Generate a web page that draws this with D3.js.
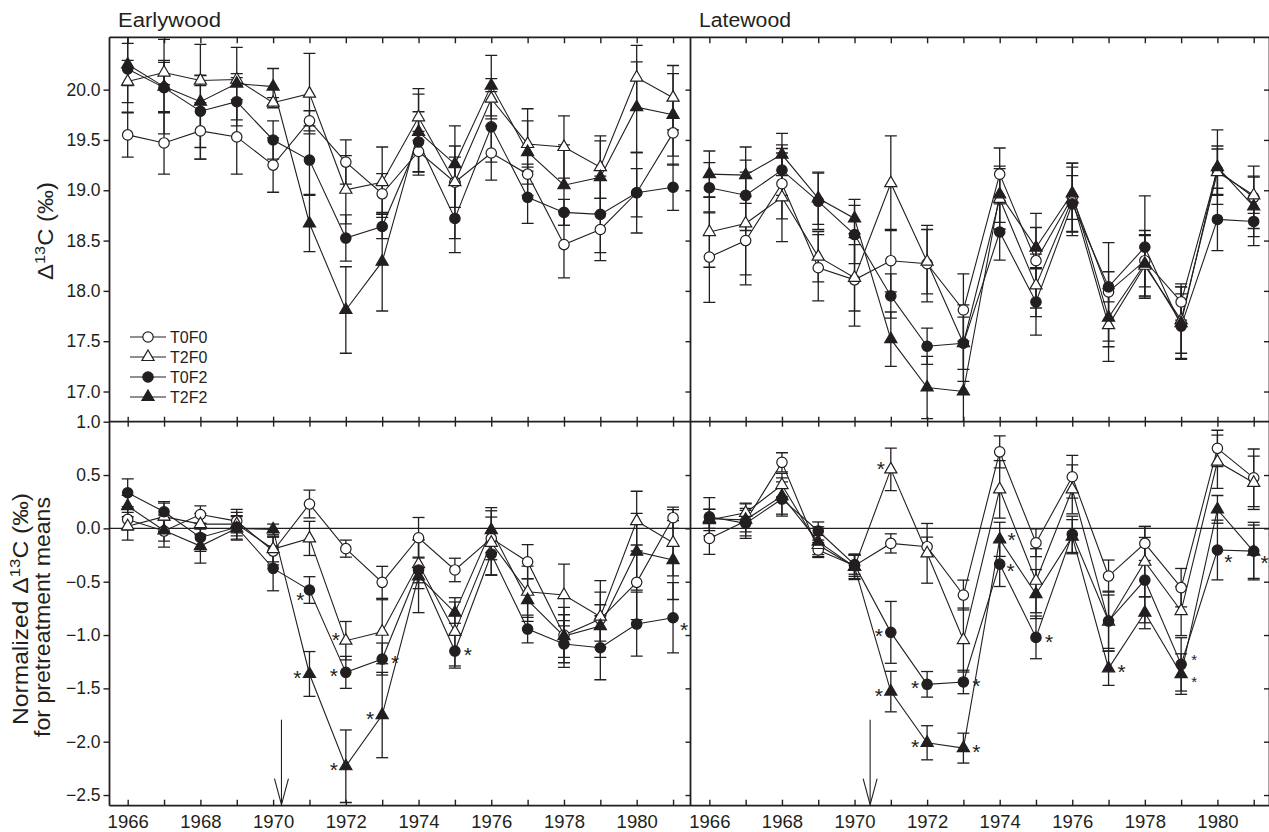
<!DOCTYPE html>
<html><head><meta charset="utf-8">
<script src="https://cdn.jsdelivr.net/npm/d3@7"></script>
<style>
body{margin:0;background:#fff}
svg{display:block}
text{font-family:"Liberation Sans",Arial,Helvetica,sans-serif;fill:#231f20}
</style>
</head><body>
<svg id="c" width="1269" height="832"></svg>
<script>
// ---------------- DATA ----------------
const years = [1966,1967,1968,1969,1970,1971,1972,1973,1974,1975,1976,1977,1978,1979,1980,1981];
const seriesNames = ["T0F0","T2F0","T0F2","T2F2"];
const panelTitles = ["Earlywood","Latewood"];
const rawTicks = [17.0,17.5,18.0,18.5,19.0,19.5,20.0];
const normTicks = [-2.5,-2.0,-1.5,-1.0,-0.5,0.0,0.5,1.0];
const yearLabels = [1966,1968,1970,1972,1974,1976,1978,1980];
const treatmentYear = [1970.23, 1970.43];

// Earlywood Δ13C (‰)
const earlyT0F0 = [19.55,19.47,19.59,19.53,19.25,19.69,19.28,18.965,19.385,19.08,19.37,19.16,18.46,18.61,18.975,19.57];
const earlyT0F0Err = [0.22,0.31,0.28,0.37,0.27,0.10,0.22,0.20,0.20,0.25,0.27,0.10,0.33,0.31,0.40,0.32];
const earlyT2F0 = [20.08,20.17,20.09,20.10,19.87,19.96,19.005,19.08,19.725,19.08,19.91,19.46,19.43,19.23,20.12,19.92];
const earlyT2F0Err = [0.21,0.12,0.05,0.06,0.05,0.40,0.34,0.35,0.23,0.56,0.20,0.23,0.31,0.31,0.32,0.32];
const earlyT0F2 = [20.205,20.02,19.785,19.88,19.50,19.30,18.525,18.64,19.48,18.72,19.63,18.93,18.78,18.76,18.975,19.03];
const earlyT0F2Err = [0.43,0.25,0.36,0.24,0.19,0.34,0.23,0.12,0.30,0.34,0.35,0.26,0.13,0.38,0.24,0.23];
const earlyT2F2 = [20.25,20.03,19.88,20.06,20.03,18.67,17.81,18.29,19.58,19.26,20.04,19.38,19.05,19.13,19.825,19.75];
const earlyT2F2Err = [0.21,0.47,0.57,0.36,0.18,0.28,0.43,0.49,0.43,0.18,0.30,0.43,0.40,0.36,0.45,0.41];

// Latewood Δ13C (‰)
const lateT0F0 = [18.336,18.50,19.065,18.23,18.11,18.30,18.27,17.81,19.16,18.30,18.93,17.99,18.30,17.89,19.20,18.93];
const lateT0F0Err = [0.45,0.44,0.35,0.33,0.46,0.31,0.38,0.36,0.26,0.47,0.34,0.49,0.26,0.18,0.24,0.31];
const lateT2F0 = [18.585,18.67,18.93,18.34,18.13,19.07,18.29,17.48,18.915,18.055,18.91,17.66,18.25,17.71,19.18,18.95];
const lateT2F0Err = [0.35,0.51,0.44,0.25,0.33,0.47,0.32,0.26,0.30,0.31,0.36,0.36,0.30,0.33,0.23,0.18];
const lateT0F2 = [19.025,18.95,19.20,18.89,18.56,17.95,17.45,17.48,18.585,17.89,18.865,18.04,18.435,17.65,18.71,18.69];
const lateT0F2Err = [0.25,0.35,0.25,0.28,0.29,0.22,0.18,0.38,0.28,0.33,0.28,0.15,0.51,0.32,0.31,0.24];
const lateT2F2 = [19.16,19.15,19.355,18.92,18.72,17.52,17.04,17.00,18.96,18.43,18.97,17.735,18.27,17.68,19.23,18.84];
const lateT2F2Err = [0.23,0.28,0.21,0.26,0.19,0.27,0.31,0.50,0.28,0.20,0.26,0.29,0.33,0.36,0.37,0.30];

// Normalized earlywood Δ13C (‰)
const earlyNormT0F0 = [0.084,-0.025,0.13,0.068,-0.213,0.228,-0.19,-0.506,-0.088,-0.39,-0.094,-0.313,-1.0,-0.85,-0.506,0.10];
const earlyNormT0F0Err = [0.10,0.15,0.08,0.11,0.13,0.13,0.08,0.15,0.19,0.11,0.20,0.16,0.26,0.36,0.35,0.10];
const earlyNormT2F0 = [0.02,0.11,0.04,0.04,-0.194,-0.094,-1.053,-0.969,-0.335,-0.97,-0.135,-0.594,-0.625,-0.828,0.068,-0.135];
const earlyNormT2F0Err = [0.13,0.14,0.10,0.11,0.12,0.16,0.18,0.30,0.23,0.32,0.30,0.24,0.29,0.23,0.28,0.31];
const earlyNormT0F2 = [0.334,0.156,-0.085,0.01,-0.375,-0.578,-1.35,-1.225,-0.39,-1.15,-0.24,-0.944,-1.084,-1.119,-0.897,-0.838];
const earlyNormT0F2Err = [0.13,0.08,0.13,0.11,0.21,0.125,0.15,0.15,0.12,0.16,0.20,0.13,0.22,0.30,0.30,0.33];
const earlyNormT2F2 = [0.209,-0.02,-0.166,0.0,-0.01,-1.365,-2.23,-1.75,-0.45,-0.79,-0.016,-0.672,-1.01,-0.916,-0.219,-0.297];
const earlyNormT2F2Err = [0.10,0.10,0.16,0.11,0.05,0.21,0.34,0.40,0.34,0.10,0.21,0.20,0.20,0.20,0.36,0.37];

// Normalized latewood Δ13C (‰)
const lateNormT0F0 = [-0.094,0.068,0.619,-0.203,-0.35,-0.141,-0.172,-0.625,0.718,-0.135,0.484,-0.447,-0.141,-0.556,0.75,0.474];
const lateNormT0F0Err = [0.15,0.10,0.09,0.07,0.10,0.09,0.09,0.14,0.15,0.13,0.20,0.15,0.16,0.18,0.17,0.27];
const lateNormT2F0 = [0.078,0.146,0.406,-0.156,-0.36,0.553,-0.234,-1.047,0.366,-0.491,0.366,-0.875,-0.313,-0.775,0.625,0.427];
const lateNormT2F0Err = [0.10,0.09,0.11,0.09,0.12,0.20,0.28,0.30,0.27,0.30,0.23,0.25,0.33,0.23,0.25,0.25];
const lateNormT0F2 = [0.109,0.047,0.275,-0.025,-0.34,-0.975,-1.462,-1.44,-0.335,-1.022,-0.056,-0.869,-0.485,-1.275,-0.203,-0.213];
const lateNormT0F2Err = [0.18,0.14,0.16,0.085,0.09,0.29,0.12,0.11,0.21,0.20,0.17,0.28,0.40,0.25,0.28,0.27];
const lateNormT2F2 = [0.09,0.08,0.303,-0.125,-0.36,-1.53,-2.01,-2.06,-0.103,-0.616,-0.078,-1.312,-0.791,-1.366,0.178,-0.219];
const lateNormT2F2Err = [0.09,0.15,0.17,0.14,0.11,0.19,0.16,0.14,0.16,0.23,0.16,0.16,0.15,0.19,0.13,0.25];

// significance asterisks: [series, year, side]
const earlyStars = [["T0F2",1971,"dl"],["T2F2",1971,"l"],["T2F0",1972,"ul"],["T0F2",1972,"l"],["T2F2",1972,"l"],
  ["T2F2",1973,"l"],["T0F2",1973,"r"],["T0F2",1975,"r"],["T0F2",1981,"dr"]];
const lateStars = [["T2F0",1971,"ul"],["T0F2",1971,"l"],["T2F2",1971,"l"],["T0F2",1972,"l"],["T2F2",1972,"l"],
  ["T2F2",1973,"r"],["T0F2",1973,"r"],["T2F2",1974,"ru"],["T0F2",1974,"rd"],["T0F2",1975,"r"],["T2F2",1977,"r"],
  ["T0F2",1979,"ur"],["T2F2",1979,"dr2"],["T0F2",1980,"dr"],["T0F2",1981,"dr"]];

// ---------------- LAYOUT ----------------
const ink = "#231f20";
const svg = d3.select("#c");
const colX = [
  d3.scaleLinear().domain([1965.5, 1981.48]).range([109.5, 690.5]),
  d3.scaleLinear().domain([1965.48, 1981.435]).range([690.5, 1269.5])
];
const rowY = [
  d3.scaleLinear().domain([16.7, 20.52]).range([421.7, 37.3]),
  d3.scaleLinear().domain([-2.6, 1.0]).range([805.7, 421.7])
];

const panels = [
  {col:0,row:0,data:{T0F0:[earlyT0F0,earlyT0F0Err],T2F0:[earlyT2F0,earlyT2F0Err],T0F2:[earlyT0F2,earlyT0F2Err],T2F2:[earlyT2F2,earlyT2F2Err]},stars:[]},
  {col:1,row:0,data:{T0F0:[lateT0F0,lateT0F0Err],T2F0:[lateT2F0,lateT2F0Err],T0F2:[lateT0F2,lateT0F2Err],T2F2:[lateT2F2,lateT2F2Err]},stars:[]},
  {col:0,row:1,data:{T0F0:[earlyNormT0F0,earlyNormT0F0Err],T2F0:[earlyNormT2F0,earlyNormT2F0Err],T0F2:[earlyNormT0F2,earlyNormT0F2Err],T2F2:[earlyNormT2F2,earlyNormT2F2Err]},stars:earlyStars},
  {col:1,row:1,data:{T0F0:[lateNormT0F0,lateNormT0F0Err],T2F0:[lateNormT2F0,lateNormT2F0Err],T0F2:[lateNormT0F2,lateNormT0F2Err],T2F2:[lateNormT2F2,lateNormT2F2Err]},stars:lateStars}
];

const style = {
  T0F0:{shape:"circle",fill:"#fff"},
  T2F0:{shape:"tri",fill:"#fff"},
  T0F2:{shape:"circle",fill:ink},
  T2F2:{shape:"tri",fill:ink}
};
const triPath = d3.symbol().type(d3.symbolTriangle).size(64)();

function marker(g, s, x, y){
  const st = style[s];
  if(st.shape==="circle"){
    g.append("circle").attr("cx",x).attr("cy",y).attr("r",5.2)
      .attr("fill",st.fill).attr("stroke",ink).attr("stroke-width",1.2);
  } else {
    g.append("path").attr("d",triPath).attr("transform",`translate(${x},${y})`)
      .attr("fill",st.fill).attr("stroke",ink).attr("stroke-width",1.2).attr("stroke-linejoin","miter");
  }
}

const defs = svg.append("defs");
panels.forEach((p,i)=>{
  const x = colX[p.col], y = rowY[p.row];
  const [x0,x1] = x.range(), [y1,y0] = y.range();
  defs.append("clipPath").attr("id","clip"+i).append("rect")
    .attr("x",x0).attr("y",y0).attr("width",x1-x0).attr("height",y1-y0);
  const g = svg.append("g");
  const gc = g.append("g").attr("clip-path",`url(#clip${i})`);

  if(p.row===1){
    gc.append("line").attr("x1",x0).attr("x2",x1).attr("y1",y(0)).attr("y2",y(0))
      .attr("stroke",ink).attr("stroke-width",1.1);
  }
  // error bars
  seriesNames.forEach(s=>{
    const [vals, errs] = p.data[s];
    vals.forEach((v,k)=>{
      const cx = x(years[k]);
      const ya = y(v+errs[k]), yb = y(v-errs[k]);
      gc.append("line").attr("x1",cx).attr("x2",cx).attr("y1",ya).attr("y2",yb)
        .attr("stroke",ink).attr("stroke-width",1.3);
      [ya,yb].forEach(yy=>gc.append("line").attr("x1",cx-6).attr("x2",cx+6).attr("y1",yy).attr("y2",yy)
        .attr("stroke",ink).attr("stroke-width",1.3));
    });
  });
  // lines
  const line = d3.line().x((d,k)=>x(years[k])).y(d=>y(d));
  seriesNames.forEach(s=>{
    gc.append("path").attr("d",line(p.data[s][0])).attr("fill","none")
      .attr("stroke",ink).attr("stroke-width",1.1);
  });
  // markers
  seriesNames.forEach(s=>{
    p.data[s][0].forEach((v,k)=>marker(g,s,x(years[k]),y(v)));
  });
  // asterisks
  const off = {l:[-12,0],r:[13,0],ul:[-10,-5],dl:[-9,6],dr:[11,8],ru:[12,-3],rd:[11,3],ur:[13,-7],dr2:[13,5]};
  p.stars.forEach(([s,yr,side])=>{
    const k = years.indexOf(yr);
    const v = p.data[s][0][k];
    const [dx,dy] = off[side];
    const stacked = side==="ur"||side==="dr2";
    const fs = stacked ? 15 : 21;
    g.append("text").attr("text-anchor","middle").attr("font-size",fs)
      .attr("x",x(yr)+dx).attr("y",y(v)+dy+fs*0.53).text("*");
  });
  // treatment arrow
  if(p.row===1){
    const ax = x(treatmentYear[p.col]);
    const yb = y.range()[0];
    g.append("line").attr("x1",ax).attr("x2",ax).attr("y1",yb-86).attr("y2",yb-1)
      .attr("stroke",ink).attr("stroke-width",1.1);
    g.append("path").attr("d",`M${ax-7},${yb-27}L${ax},${yb-1}L${ax+7},${yb-27}`)
      .attr("fill","none").attr("stroke",ink).attr("stroke-width",1.1);
  }
});

// ---------------- AXES ----------------
const fmt = d3.format(".1f");
function cleanAxis(g){ g.select(".domain").remove(); g.selectAll("line").attr("stroke",ink).attr("stroke-width",1.4); g.selectAll("text").attr("fill",ink); }

// left labelled axes
[[0,rawTicks],[1,normTicks]].forEach(([r,ticks])=>{
  svg.append("g").attr("transform",`translate(${colX[0].range()[0]},0)`)
    .call(d3.axisLeft(rowY[r]).tickValues(ticks).tickFormat(fmt).tickSize(6).tickPadding(3))
    .call(cleanAxis).selectAll("text").attr("font-size",17.5).attr("font-family","Liberation Sans, Arial, sans-serif");
  // ticks on the middle divider (outward to the left)
  svg.append("g").attr("transform",`translate(${colX[1].range()[0]},0)`)
    .call(d3.axisLeft(rowY[r]).tickValues(ticks.filter(t=>t!==1.0)).tickFormat("").tickSize(5))
    .call(cleanAxis);
  // ticks on the right edge (inward)
  svg.append("g").attr("transform",`translate(${colX[1].range()[1]-0.5},0)`)
    .call(d3.axisLeft(rowY[r]).tickValues(ticks.filter(t=>t!==1.0)).tickFormat("").tickSize(5))
    .call(cleanAxis);
});

// x axes
colX.forEach((x,c)=>{
  const top = rowY[0].range()[1], mid = rowY[0].range()[0], bot = rowY[1].range()[0];
  svg.append("g").attr("transform",`translate(0,${top})`)
    .call(d3.axisTop(x).tickValues(years).tickFormat("").tickSize(-6)).call(cleanAxis);
  svg.append("g").attr("transform",`translate(0,${mid})`)
    .call(d3.axisTop(x).tickValues(years).tickFormat("").tickSize(5)).call(cleanAxis);
  svg.append("g").attr("transform",`translate(0,${mid})`)
    .call(d3.axisTop(x).tickValues(years).tickFormat("").tickSize(-5)).call(cleanAxis);
  svg.append("g").attr("transform",`translate(0,${bot})`)
    .call(d3.axisBottom(x).tickValues(years).tickFormat(d=>yearLabels.includes(d)?String(d):"").tickSize(-6).tickPadding(9))
    .call(cleanAxis).selectAll("text").attr("font-size",18.5).attr("font-family","Liberation Sans, Arial, sans-serif");
});

// frame
const fx0 = colX[0].range()[0], fxm = colX[1].range()[0], fx1 = colX[1].range()[1];
const fy0 = rowY[0].range()[1], fym = rowY[0].range()[0], fy1 = rowY[1].range()[0];
const frame = svg.append("g").attr("stroke",ink).attr("stroke-width",1.8).attr("fill","none");
[[fx0,fy0,fx1,fy0],[fx0,fym,fx1,fym],[fx0,fy1,fx1,fy1],[fx0,fy0,fx0,fy1],[fxm,fy0,fxm,fy1],[fx1,fy0,fx1,fy1]]
  .forEach(([a,b,c,d])=>frame.append("line").attr("x1",a).attr("y1",b).attr("x2",c).attr("y2",d));

// titles
panelTitles.forEach((t,c)=>{
  svg.append("text").attr("x",colX[c].range()[0]+8.5).attr("y",26.5).attr("font-size",20)
    .attr("textLength",c===0?103:92).attr("lengthAdjust","spacingAndGlyphs").text(t);
});

// y-axis titles
function yTitle(cx, cy, len, pre){
  const t = svg.append("text").attr("transform",`translate(${cx},${cy}) rotate(-90)`)
    .attr("text-anchor","middle").attr("font-size",22)
    .attr("textLength",len).attr("lengthAdjust","spacingAndGlyphs");
  t.append("tspan").text(pre+"Δ");
  t.append("tspan").attr("dy",-8).attr("font-size",15).text("13");
  t.append("tspan").attr("dy",8).text("C (‰)");
}
yTitle(53, 231, 98, "");
yTitle(28, 609, 232, "Normalized ");
svg.append("text").attr("transform","translate(50,617) rotate(-90)")
  .attr("text-anchor","middle").attr("font-size",22)
  .attr("textLength",240).attr("lengthAdjust","spacingAndGlyphs").text("for pretreatment means");

// legend
const legY = [337,357,377,397];
seriesNames.forEach((s,i)=>{
  const lg = svg.append("g");
  lg.append("line").attr("x1",130).attr("x2",166).attr("y1",legY[i]).attr("y2",legY[i])
    .attr("stroke",ink).attr("stroke-width",1.1);
  marker(lg,s,148,legY[i]);
  lg.append("text").attr("x",170).attr("y",legY[i]+6).attr("font-size",16).text(s);
});
</script>
</body></html>
